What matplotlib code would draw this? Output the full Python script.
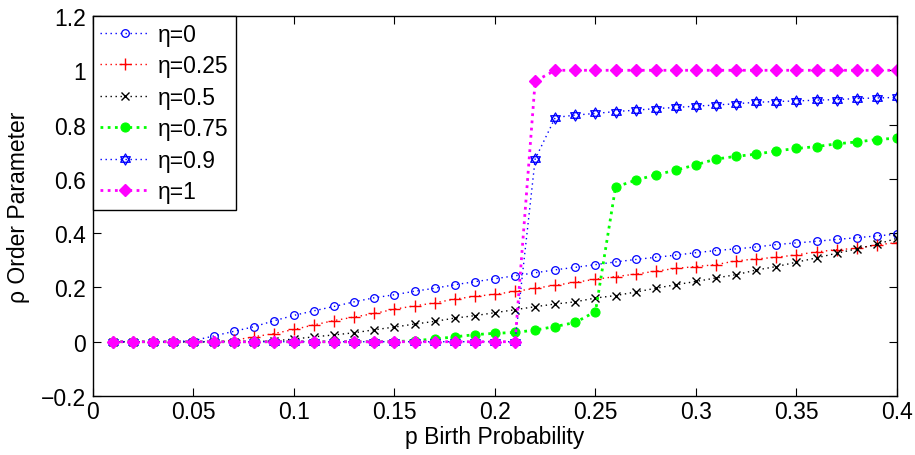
import matplotlib
matplotlib.use("Agg")
import numpy as np
import matplotlib.pyplot as plt
from matplotlib.path import Path
from matplotlib.ticker import FuncFormatter

plt.rcParams['font.family'] = ['Liberation Sans', 'DejaVu Sans']

# p = 0.01 .. 0.40
p = [round(0.01 * i, 2) for i in range(1, 41)]

eta_labels = ['η=0', 'η=0.25', 'η=0.5', 'η=0.75', 'η=0.9', 'η=1']

rho_eta0 = [0, 0, 0, 0, 0.004, 0.021, 0.038, 0.055, 0.077, 0.097,
            0.114, 0.130, 0.147, 0.162, 0.173, 0.186, 0.197, 0.210, 0.221, 0.232,
            0.243, 0.254, 0.265, 0.274, 0.284, 0.294, 0.303, 0.311, 0.319, 0.328,
            0.336, 0.342, 0.349, 0.358, 0.364, 0.370, 0.377, 0.383, 0.390, 0.396]
rho_eta025 = [0, 0, 0, 0, 0, 0, 0.005, 0.018, 0.030, 0.045,
              0.062, 0.078, 0.091, 0.104, 0.120, 0.132, 0.143, 0.157, 0.167, 0.175,
              0.185, 0.197, 0.208, 0.219, 0.230, 0.240, 0.249, 0.260, 0.270, 0.277,
              0.284, 0.298, 0.305, 0.311, 0.320, 0.331, 0.339, 0.344, 0.357, 0.365]
rho_eta05 = [0, 0, 0, 0, 0, 0, 0, 0, 0.003, 0.010,
             0.018, 0.025, 0.033, 0.044, 0.054, 0.065, 0.075, 0.087, 0.096, 0.107,
             0.118, 0.129, 0.139, 0.147, 0.161, 0.170, 0.183, 0.197, 0.210, 0.222,
             0.235, 0.247, 0.264, 0.277, 0.293, 0.309, 0.326, 0.342, 0.359, 0.381]
rho_eta075 = [0, 0, 0, 0, 0, 0, 0, 0, 0, 0,
              0, 0, 0, 0, 0, 0.004, 0.010, 0.018, 0.026, 0.031,
              0.034, 0.043, 0.056, 0.071, 0.111, 0.570, 0.595, 0.615, 0.632, 0.652,
              0.673, 0.683, 0.691, 0.703, 0.712, 0.719, 0.729, 0.736, 0.745, 0.750]
rho_eta09 = [0, 0, 0, 0, 0, 0, 0, 0, 0, 0,
             0, 0, 0, 0, 0, 0, 0, 0, 0, 0,
             0, 0.673, 0.826, 0.835, 0.841, 0.848, 0.853, 0.859, 0.863, 0.868,
             0.872, 0.877, 0.882, 0.885, 0.887, 0.890, 0.892, 0.896, 0.898, 0.900]
rho_eta1 = [0, 0, 0, 0, 0, 0, 0, 0, 0, 0,
            0, 0, 0, 0, 0, 0, 0, 0, 0, 0,
            0, 0.960, 1, 1, 1, 1, 1, 1, 1, 1,
            1, 1, 1, 1, 1, 1, 1, 1, 1, 1]

xticks = [0, 0.05, 0.1, 0.15, 0.2, 0.25, 0.3, 0.35, 0.4]
yticks = [-0.2, 0, 0.2, 0.4, 0.6, 0.8, 1, 1.2]

# matlab-like hexagram: two overlapping triangles
ang_up = np.deg2rad([90, 210, 330])
ang_dn = np.deg2rad([270, 30, 150])
verts = []
codes = []
for angs in (ang_up, ang_dn):
    pts = [(np.cos(a), np.sin(a)) for a in angs]
    verts += pts + [pts[0]]
    codes += [Path.MOVETO, Path.LINETO, Path.LINETO, Path.CLOSEPOLY]
hexagram = Path(verts, codes)

dot = (0, (1, 2.6))
dot_thick = (0, (1, 1.6))

fig = plt.figure(figsize=(9.15, 4.56), dpi=100)
ax = fig.add_axes([0.1016, 0.1294, 0.8787, 0.8333])

ax.plot(p, rho_eta0, linestyle=dot, color='b', marker='o', ms=5.5, mfc='none', mew=0.9, lw=1.0, label=eta_labels[0])
ax.plot(p, rho_eta025, linestyle=dot, color='r', marker='+', ms=9, mew=1.0, lw=1.0, label=eta_labels[1])
ax.plot(p, rho_eta05, linestyle=dot, color='k', marker='x', ms=5.5, mew=1.0, lw=1.0, label=eta_labels[2])
ax.plot(p, rho_eta075, linestyle=dot_thick, color='#00ff00', marker='o', ms=6.5, mfc='#00ff00', mew=0.8, lw=2.0, label=eta_labels[3])
ax.plot(p, rho_eta09, linestyle=dot, color='b', marker=hexagram, ms=8, mfc='none', mew=0.9, lw=1.0, label=eta_labels[4])
ax.plot(p, rho_eta1, linestyle=dot_thick, color='#ff00ff', marker='D', ms=6, mfc='#ff00ff', mew=1.0, lw=2.0, label=eta_labels[5])

ax.set_xlim(0, 0.4)
ax.set_ylim(-0.2, 1.2)
ax.set_xticks(xticks)
ax.set_yticks(yticks)
fmt = FuncFormatter(lambda v, pos: ('%g' % round(v, 3)).replace('-', '\u2212'))
ax.xaxis.set_major_formatter(fmt)
ax.yaxis.set_major_formatter(fmt)
ax.tick_params(direction='in', top=True, right=True, labelsize=16.5, length=6, width=0.8)
ax.tick_params(axis='x', pad=3)
ax.tick_params(axis='y', pad=5)
for s in ax.spines.values():
    s.set_linewidth(1.0)

ax.set_xlabel('p Birth Probability', fontsize=16.5, labelpad=1)
ax.set_ylabel('ρ Order Parameter', fontsize=16.5, labelpad=8)

leg = ax.legend(loc='upper left', fontsize=16.5, fancybox=False, framealpha=1,
                edgecolor='k', borderaxespad=0.0, handlelength=2.2,
                handletextpad=0.35, labelspacing=0.37, borderpad=0.3)
leg.get_frame().set_linewidth(1.0)

fig.savefig('out.png', dpi=100)
